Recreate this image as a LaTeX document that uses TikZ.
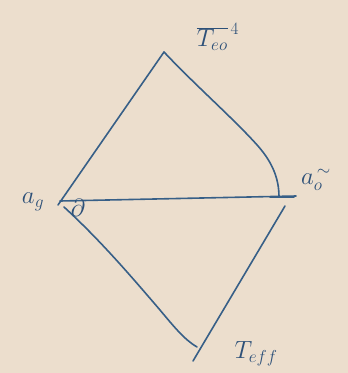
\documentclass[tikz,border=0pt]{standalone}
\definecolor{paper}{RGB}{236,222,205}
\definecolor{inkc}{RGB}{55,95,135}
\definecolor{inkt}{RGB}{45,80,120}
\begin{document}
\begin{tikzpicture}[x=1pt,y=-1pt,
  ink/.style={draw=inkc,line width=1.6pt,line cap=round,line join=round},
  lbl/.style={text=inkt,inner sep=0pt,font=\fontsize{26}{28}\selectfont}]
\fill[paper] (0,0) rectangle (348,373);
\useasboundingbox (0,0) rectangle (348,373);
\coordinate (L) at (58,205);
\coordinate (T) at (164,52);
\coordinate (R) at (296,196);
\coordinate (RV) at (279,197);
\coordinate (B) at (197,347);
\coordinate (RB) at (193,361);
\draw[ink] (L) -- (T);
\draw[ink] (T) .. controls (195,85) and (235,120) .. (258,146) .. controls (272,162) and (279,178) .. (RV);
\draw[ink] (60,201) -- (R);
\draw[ink] (270,197) -- (294,197);
\draw[ink] (285,206) -- (RB);
\draw[ink] (64,207) .. controls (100,240) and (130,275) .. (160,310) .. controls (175,328) and (185,340) .. (B);
\node[lbl] (teo) at (218,37) {$\overline{T_{eo}}^{\,4}$};
\node[lbl] (ag) at (33,202) {$a_{g}$};
\node[lbl] (th) at (78,208) {$\partial$};
\node[lbl] (ao) at (316,180) {$a_{o}^{\,\sim}$};
\node[lbl] (teff) at (256,354) {$T_{eff}$};
\end{tikzpicture}
\end{document}
